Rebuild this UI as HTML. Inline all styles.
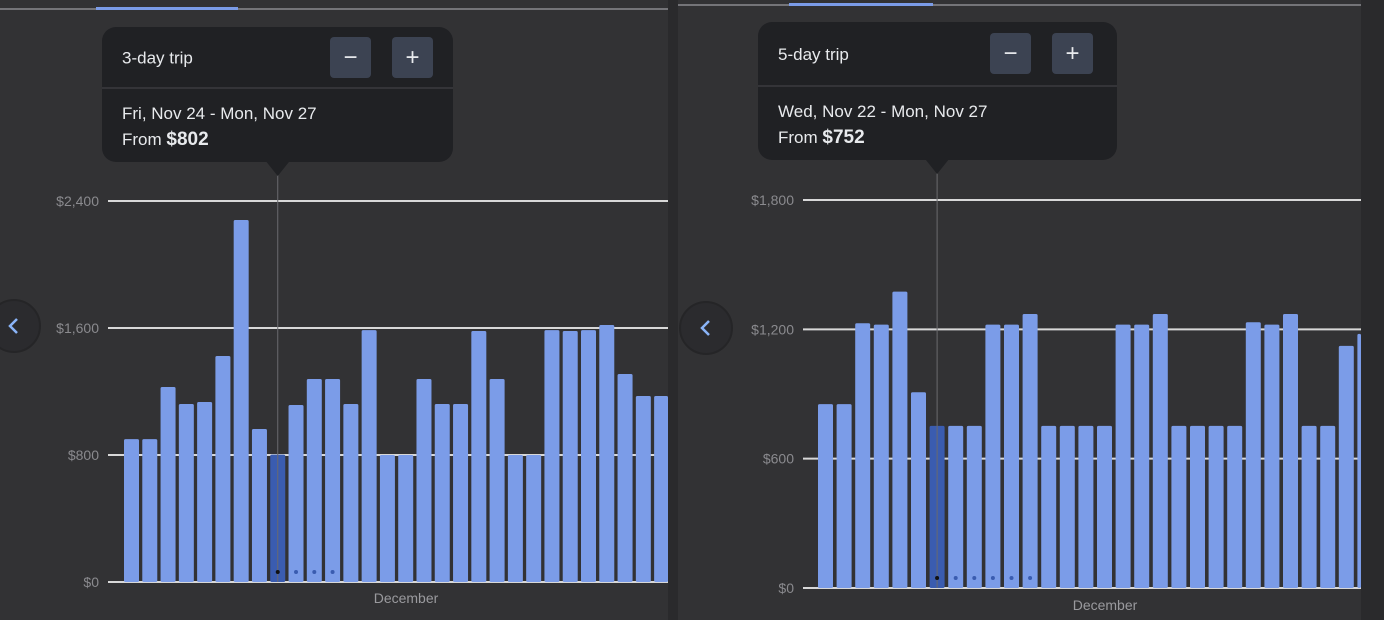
<!DOCTYPE html>
<html><head><meta charset="utf-8">
<style>
html,body{margin:0;padding:0;background:#2a2a2c;width:1384px;height:620px;overflow:hidden;font-family:"Liberation Sans",sans-serif;}
svg{display:block}
</style></head>
<body>
<svg id="s" width="1384" height="620" xmlns="http://www.w3.org/2000/svg">
<rect x="0" y="0" width="668" height="620" fill="#323234"/>
<rect x="678" y="0" width="683" height="620" fill="#323234"/>
<g id="g"></g>
</svg>
<script>
const leftValues=[900,900,1228,1121,1134,1424,2280,964,802,1115,1279,1279,1121,1587,800,800,1279,1121,1121,1581,1279,800,800,1587,1581,1587,1619,1310,1172,1172];
const leftTicks=[0,800,1600,2400];
const leftTickLabels=["$0","$800","$1,600","$2,400"];
const rightValues=[853,853,1228,1222,1375,908,752,752,752,1222,1222,1271,752,752,752,752,1222,1222,1271,752,752,752,752,1233,1222,1271,752,752,1123,1179];
const rightTicks=[0,600,1200,1800];
const rightTickLabels=["$0","$600","$1,200","$1,800"];

const NS="http://www.w3.org/2000/svg";
const g=document.getElementById('g');
function mk(tag,attrs,parent){const e=document.createElementNS(NS,tag);for(const k in attrs)e.setAttribute(k,attrs[k]);(parent||g).appendChild(e);return e;}

function chart(cfg){
  const {values,ticks,labels,x0,x1,y0,yTop,max,barX0,pitch,sel,clipX,side}=cfg;
  const y=v=>y0-(v/max)*(y0-yTop);
  const xb=i=>barX0+i*pitch;
  ticks.forEach((t,i)=>{
    const l=mk('line',{x1:x0,x2:x1,y1:y(t),y2:y(t),stroke:'#d8d8d8','stroke-width':2});
    
    
    const tx=mk('text',{x:x0-9,y:y(t)+5,'text-anchor':'end',fill:'#8a8a8e','font-size':14});
    tx.textContent=labels[i];
    
    
  });
  values.forEach((v,i)=>{
    let x=xb(i),w=15;
    if(x+w>clipX) w=clipX-x;
    if(w<=0) return;
    const r=mk('rect',{x:x,y:y(v),width:w,height:y0-y(v),rx:1.5,fill:i===sel?'#3a5cb0':'#7b9ce8'});
    
    
  });
  return {y,xb};
}

const L=chart({values:leftValues,ticks:leftTicks,labels:leftTickLabels,x0:108,x1:668,y0:582,yTop:201,max:2400,barX0:124,pitch:18.28,sel:8,clipX:668,side:'left'});
const R=chart({values:rightValues,ticks:rightTicks,labels:rightTickLabels,x0:803,x1:1361,y0:588,yTop:200,max:1800,barX0:818,pitch:18.6,sel:6,clipX:1361,side:'right'});

function extras(side,c,sel,ndots,tipX,tipY,tipW,tipH,divY,title,dates,price,btnX,btnY,monthX,monthY,tabY,tabX0,tabX1,panelX0,panelX1){
  const cx=c.xb(sel)+7.5;
  let e=mk('line',{x1:panelX0,x2:panelX1,y1:tabY,y2:tabY,stroke:'#8a8a8e','stroke-width':1.5});
  
  e=mk('rect',{x:tabX0,y:tabY-2,width:tabX1-tabX0,height:3,fill:'#7b9ce8'});
  
  e=mk('line',{x1:cx,x2:cx,y1:tipY+tipH,y2:c.y(0),stroke:'#6a6a6e','stroke-width':1});
  
  for(let k=0;k<ndots;k++){
    e=mk('circle',{cx:cx+k*c.pitch,cy:c.y(0)-10,r:2,fill:k===0?'#111':'#3a5cb0'});
    
  }
  e=mk('rect',{x:tipX,y:tipY,width:tipW,height:tipH,rx:14,fill:'#202124'});
  
  e=mk('polygon',{points:`${cx-12},${tipY+tipH-1} ${cx+12},${tipY+tipH-1} ${cx},${tipY+tipH+14}`,fill:'#202124'});
  
  e=mk('line',{x1:tipX,x2:tipX+tipW,y1:divY,y2:divY,stroke:'#3a3b3e','stroke-width':1.5});
  
  e=mk('text',{x:tipX+20,y:(tipY+divY)/2+6,fill:'#e8eaed','font-size':17});e.textContent=title;
  
  e=mk('text',{x:tipX+20,y:divY+31,fill:'#e8eaed','font-size':17});e.textContent=dates;
  
  e=mk('text',{x:tipX+20,y:divY+57,fill:'#e8eaed','font-size':17});e.innerHTML='From <tspan font-weight="bold" font-size="19">'+price+'</tspan>';
  
  [['minus','−',btnX],['plus','+',btnX+62]].forEach(([n,s,bx])=>{
    let b=mk('rect',{x:bx,y:btnY,width:41,height:41,rx:4,fill:'#3c4352'});
    
    let t=mk('text',{x:bx+20.5,y:btnY+28,'text-anchor':'middle',fill:'#e8eaed','font-size':24});t.textContent=s;
    
  });
  e=mk('text',{x:monthX,y:monthY,'text-anchor':'middle',fill:'#9a9a9e','font-size':14});e.textContent='December';
  
}
extras('left',{xb:L.xb,y:L.y,pitch:18.28},8,4,102,27,351,135,88,'3-day trip','Fri, Nov 24 - Mon, Nov 27','$802',330,37,406,603,9,96,238,0,668);
extras('right',{xb:R.xb,y:R.y,pitch:18.6},6,6,758,22,359,138,86,'5-day trip','Wed, Nov 22 - Mon, Nov 27','$752',990,33,1105,610,5,789,933,678,1361);

// prev buttons
[['left',14,326],['right',706,328]].forEach(([s,cx,cy])=>{
  let c=mk('circle',{cx:cx,cy:cy,r:26,fill:'#2b2b2e',stroke:'#252527','stroke-width':2});
  
  let p=mk('polyline',{points:`${cx+3},${cy-7} ${cx-4},${cy} ${cx+3},${cy+7}`,fill:'none',stroke:'#8ab4f8','stroke-width':2.5});
  
});
</script>
</body></html>
